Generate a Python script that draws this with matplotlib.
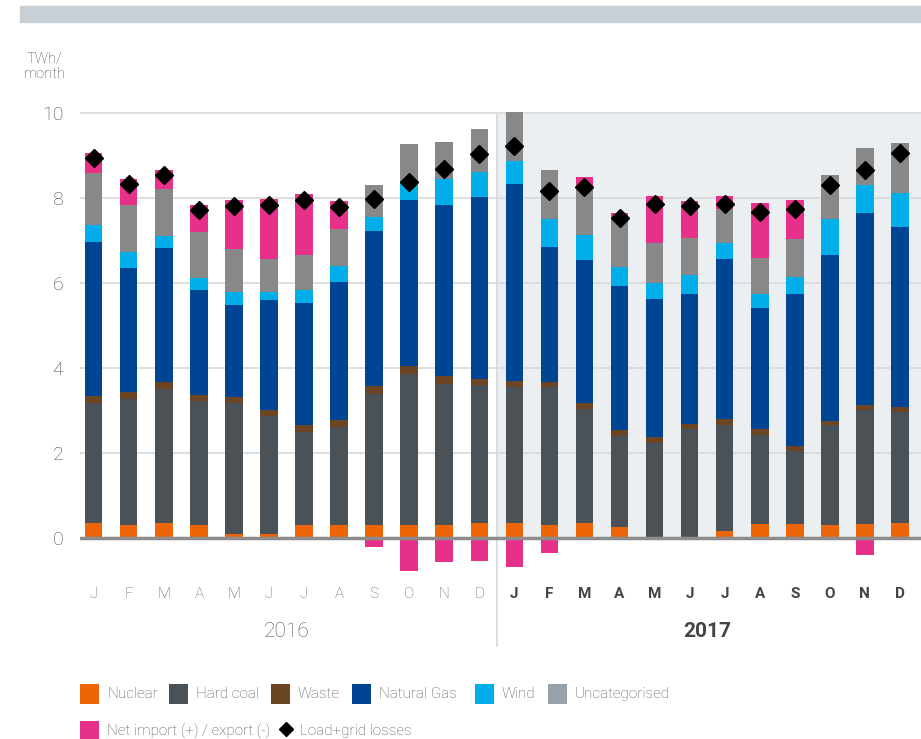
import matplotlib
matplotlib.use("Agg")
import matplotlib.pyplot as plt
from matplotlib.patches import Rectangle
from matplotlib.lines import Line2D
import numpy as np

plt.rcParams['font.family'] = ['Roboto', 'DejaVu Sans']

months = ["J", "F", "M", "A", "M", "J", "J", "A", "S", "O", "N", "D"]
years = ["2016", "2017"]

# TWh/month, Jan 2016 .. Dec 2017
nuclear = [0.35, 0.31, 0.35, 0.31, 0.10, 0.10, 0.31, 0.31, 0.31, 0.31, 0.31, 0.35,
           0.35, 0.31, 0.35, 0.27, 0.03, 0.03, 0.16, 0.33, 0.33, 0.31, 0.33, 0.35]
hard_coal = [2.83, 2.95, 3.15, 2.91, 3.08, 2.77, 2.18, 2.30, 3.09, 3.54, 3.32, 3.24,
             3.21, 3.25, 2.69, 2.14, 2.21, 2.53, 2.49, 2.10, 1.72, 2.34, 2.69, 2.62]
waste = [0.16, 0.18, 0.17, 0.14, 0.14, 0.14, 0.16, 0.16, 0.18, 0.19, 0.18, 0.14,
         0.14, 0.11, 0.14, 0.12, 0.14, 0.13, 0.15, 0.14, 0.12, 0.11, 0.11, 0.11]
natural_gas = [3.63, 2.91, 3.16, 2.47, 2.17, 2.59, 2.88, 3.26, 3.65, 3.92, 4.03, 4.30,
               4.64, 3.18, 3.37, 3.40, 3.25, 3.06, 3.77, 2.85, 3.58, 3.91, 4.52, 4.23]
wind = [0.40, 0.39, 0.28, 0.29, 0.30, 0.19, 0.31, 0.38, 0.32, 0.44, 0.60, 0.59,
        0.52, 0.66, 0.57, 0.45, 0.36, 0.44, 0.36, 0.33, 0.38, 0.84, 0.65, 0.80]
uncategorised = [1.21, 1.10, 1.11, 1.08, 1.01, 0.77, 0.82, 0.85, 0.76, 0.88, 0.88, 1.01,
                 1.17, 1.16, 1.13, 1.13, 0.96, 0.88, 0.82, 0.85, 0.90, 1.04, 0.88, 1.18]
net_import = [0.49, 0.61, 0.44, 0.64, 1.16, 1.42, 1.44, 0.67, -0.20, -0.77, -0.56, -0.53,
              -0.69, -0.36, 0.25, 0.14, 1.10, 0.87, 0.30, 1.29, 0.93, 0.00, -0.39, 0.00]
load = [8.94, 8.33, 8.53, 7.71, 7.82, 7.84, 7.96, 7.78, 7.98, 8.38, 8.68, 9.03,
        9.22, 8.16, 8.27, 7.52, 7.87, 7.80, 7.87, 7.68, 7.73, 8.30, 8.66, 9.05]

series = [
    ("Nuclear", nuclear, "#ec6608"),
    ("Hard coal", hard_coal, "#4a5157"),
    ("Waste", waste, "#6b4423"),
    ("Natural Gas", natural_gas, "#004494"),
    ("Wind", wind, "#00aeea"),
    ("Uncategorised", uncategorised, "#888888"),
]
import_color = "#e6308a"
legend_uncat_color = "#97a3ac"

W, H = 921, 739
fig = plt.figure(figsize=(W / 100, H / 100), dpi=100)

# top band
fig.patches.append(Rectangle((20 / W, 1 - 22 / H), 1 - 20 / W, 16 / H,
                             transform=fig.transFigure, color="#c8d0d6", zorder=0))

ymin, ymax = -1.2, 10.6
px_per = 42.5
ax_bottom_px = 538 + (-ymin) * px_per
ax_top_px = 538 - ymax * px_per
ax = fig.add_axes([80 / W, 1 - ax_bottom_px / H, 1 - 80 / W, (ax_bottom_px - ax_top_px) / H])
ax.set_ylim(ymin, ymax)
ax.set_xlim(-0.39, 23.6)
for s in ax.spines.values():
    s.set_visible(False)
ax.patch.set_alpha(0)

n = len(nuclear)
x = np.arange(n)
bw = 0.5

# 2017 shading
ax.add_patch(Rectangle((11.5, 0), 23.6 - 11.5, 10, color="#eceff2", zorder=0, lw=0))
ax.plot([11.5, 11.5], [10, -2.55], color="#d5d9dd", lw=1.2, zorder=0.5, clip_on=False)

# gridlines
for g in [2, 4, 6, 8, 10]:
    ax.axhline(g, color="#d9dbdd", lw=1.3, zorder=1)

bottom = np.zeros(n)
for name, vals, col in series:
    v = np.array(vals)
    ax.bar(x, v, bw, bottom=bottom, color=col, zorder=2, lw=0)
    bottom = bottom + v

imp = np.array(net_import)
pos = np.clip(imp, 0, None)
neg = np.clip(imp, None, 0)
ax.bar(x, pos, bw, bottom=bottom, color=import_color, zorder=2, lw=0, clip_on=False)
ax.bar(x, neg, bw, bottom=0, color=import_color, zorder=2, lw=0)

ax.axhline(0, color="#8c8c8c", lw=2.5, zorder=3)

ax.plot(x, load, ls="none", marker="D", color="black", markersize=9.5, zorder=4, clip_on=False)

# y ticks
ax.set_yticks([0, 2, 4, 6, 8, 10])
ax.set_yticklabels(["0", "2", "4", "6", "8", "10"], fontsize=14, color="#4a4a4a", fontweight="light")
ax.tick_params(axis="y", length=0, pad=12)
ax.set_xticks([])

# month labels
labels = months * len(years)
for i, lab in enumerate(labels):
    bold = i >= 12
    ax.text(i, -1.32, lab, ha="center", va="center", fontsize=11,
            color="#444444" if bold else "#666666",
            fontweight="bold" if bold else "light", clip_on=False)
ax.text(5.5, -2.21, years[0], ha="center", va="center", fontsize=15, color="#555555",
        fontweight="light", clip_on=False)
ax.text(17.5, -2.21, years[1], ha="center", va="center", fontsize=15, color="#444444",
        fontweight="bold", clip_on=False)

# unit label
fig.text(45 / W, 1 - 66 / H, "TWh/\nmonth", ha="center", va="center", fontsize=10.5,
         color="#4a4a4a", fontweight="light", linespacing=1.1)

# legend
def swatch(xp, yc, color):
    fig.patches.append(Rectangle((xp / W, 1 - (yc + 10) / H), 19 / W, 20 / H,
                                 transform=fig.transFigure, color=color, lw=0))

row1 = 694
leg = [("Nuclear", "#ec6608", 80), ("Hard coal", "#4a5157", 169), ("Waste", "#6b4423", 271),
       ("Natural Gas", "#004494", 352), ("Wind", "#00aeea", 475),
       ("Uncategorised", legend_uncat_color, 548)]
for lab, col, xp in leg:
    swatch(xp, row1, col)
    fig.text((xp + 27) / W, 1 - row1 / H, lab, ha="left", va="center", fontsize=11,
             color="#555555", fontweight="light")
row2 = 731
swatch(80, row2, import_color)
fig.text(107 / W, 1 - row2 / H, "Net import (+) / export (-)", ha="left", va="center",
         fontsize=11, color="#555555", fontweight="light")
fig.lines.append(Line2D([286 / W], [1 - (row2 - 2) / H], marker="D", color="black",
                        markersize=7.5, transform=fig.transFigure))
fig.text(300 / W, 1 - row2 / H, "Load+grid losses", ha="left", va="center",
         fontsize=11, color="#555555", fontweight="light")

fig.savefig("out.png", dpi=100)
